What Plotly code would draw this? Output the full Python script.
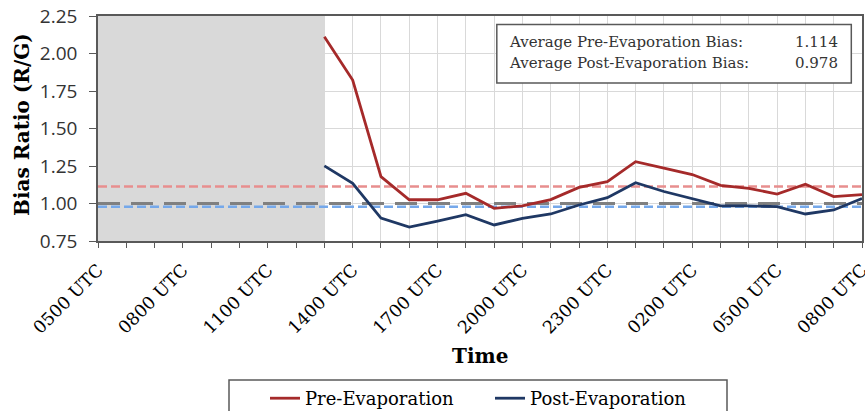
import plotly.graph_objects as go

# ---------------- data ----------------
hours = ["0500", "0600", "0700", "0800", "0900", "1000", "1100", "1200", "1300",
         "1400", "1500", "1600", "1700", "1800", "1900", "2000", "2100", "2200",
         "2300", "0000", "0100", "0200", "0300", "0400", "0500", "0600", "0700", "0800"]
label_every = 3

pre_evap = [None] * 8 + [2.112, 1.823, 1.179, 1.025, 1.025, 1.068, 0.968, 0.984, 1.026,
                         1.107, 1.146, 1.279, 1.236, 1.193, 1.121, 1.101, 1.063, 1.128,
                         1.046, 1.059]
post_evap = [None] * 8 + [1.251, 1.134, 0.903, 0.843, 0.882, 0.925, 0.857, 0.901, 0.930,
                          0.990, 1.039, 1.139, 1.080, 1.032, 0.984, 0.984, 0.979, 0.930,
                          0.957, 1.033]

avg_pre = 1.114
avg_post = 0.978
unity = 1.00
shade_start, shade_end = 0, 8   # period without data (grey band)

# ---------------- styles ----------------
SERIF = "DejaVu Serif"
SANS = "Open Sans"
FRAME = "#595959"
GRID = "#d9d9d9"

x = list(range(len(hours)))
ticktext = [(h + " UTC") if i % label_every == 0 else "" for i, h in enumerate(hours)]

fig = go.Figure()

# reference lines (drawn first, under data)
fig.add_trace(go.Scatter(x=[x[0], x[-1]], y=[avg_pre, avg_pre], mode="lines",
                         line=dict(color="#e88e8e", width=2.5, dash="9px,4px"),
                         showlegend=False, hoverinfo="skip"))
fig.add_trace(go.Scatter(x=[x[0], x[-1]], y=[unity, unity], mode="lines",
                         line=dict(color="#808080", width=3, dash="22px,11px"),
                         showlegend=False, hoverinfo="skip"))
fig.add_trace(go.Scatter(x=[x[0], x[-1]], y=[avg_post, avg_post], mode="lines",
                         line=dict(color="#75a8ea", width=2.5, dash="9px,4px"),
                         showlegend=False, hoverinfo="skip"))

fig.add_trace(go.Scatter(x=x, y=pre_evap, mode="lines", name="Pre-Evaporation",
                         line=dict(color="#a52a2a", width=2.8)))
fig.add_trace(go.Scatter(x=x, y=post_evap, mode="lines", name="Post-Evaporation",
                         line=dict(color="#1f3864", width=2.8)))

# grey band
fig.add_shape(type="rect", xref="x", yref="y", x0=shade_start, x1=shade_end,
              y0=0.75, y1=2.25, fillcolor="#d9d9d9", line=dict(width=0), layer="between")

# stats box
fig.add_shape(type="rect", xref="paper", yref="paper", x0=0.522, x1=0.986, y0=0.702, y1=0.962,
              line=dict(color=FRAME, width=1.5), fillcolor="white", layer="above")
rows = [("Average Pre-Evaporation Bias:", avg_pre, 0.884),
        ("Average Post-Evaporation Bias:", avg_post, 0.791)]
for lab, val, yy in rows:
    fig.add_annotation(xref="paper", yref="paper", x=0.535, y=yy, text=lab, showarrow=False,
                       xanchor="left", yanchor="middle", font=dict(family=SERIF, size=15, color="#333"))
    fig.add_annotation(xref="paper", yref="paper", x=0.971, y=yy, text=f"{val:.3f}", showarrow=False,
                       xanchor="right", yanchor="middle", font=dict(family=SERIF, size=15, color="#333"))

# axis titles
fig.add_annotation(xref="paper", yref="paper", x=(22 - 98) / 764, y=(241 - 125) / 225,
                   text="<b>Bias Ratio (R/G)</b>", textangle=-90, showarrow=False,
                   xanchor="center", yanchor="middle", font=dict(family=SERIF, size=20, color="black"))
fig.add_annotation(xref="paper", yref="paper", x=0.5, y=(241 - 356) / 225,
                   text="<b>Time</b>", showarrow=False,
                   xanchor="center", yanchor="middle", font=dict(family=SERIF, size=20, color="black"))

# legend box
fig.add_shape(type="rect", xref="paper", yref="paper", x0=(229 - 98) / 764, x1=(727 - 98) / 764,
              y0=-0.85, y1=(241 - 380) / 225, line=dict(color=FRAME, width=1.5))

fig.update_layout(
    width=865, height=411,
    margin=dict(l=98, r=3, t=16, b=170, autoexpand=False),
    plot_bgcolor="white", paper_bgcolor="white",
    showlegend=True,
    legend=dict(orientation="h", x=(265 - 98) / 764, y=(241 - 380) / 225,
                xanchor="left", yanchor="top", font=dict(family=SERIF, size=18, color="black"),
                bgcolor="rgba(0,0,0,0)", borderwidth=0, entrywidth=180, entrywidthmode="pixels"),
    xaxis=dict(range=[0, len(hours) - 1], tickmode="array", tickvals=x, ticktext=ticktext,
               tickangle=-45, ticks="outside", ticklen=5, tickcolor=FRAME, tickwidth=1.2,
               showline=True, linecolor=FRAME, linewidth=1.5, mirror=True,
               showgrid=True, gridcolor=GRID, gridwidth=1, zeroline=False,
               ticklabeloverflow="allow", ticklabelstandoff=5,
               tickfont=dict(family=SERIF, size=17.5, color="black")),
    yaxis=dict(range=[0.75, 2.25], tickmode="linear", tick0=0.75, dtick=0.25, tickformat=".2f",
               ticks="outside", ticklen=7, tickcolor=FRAME, tickwidth=1.2,
               showline=True, linecolor=FRAME, linewidth=1.5, mirror=True,
               showgrid=True, gridcolor=GRID, gridwidth=1, zeroline=False,
               ticklabelstandoff=8,
               tickfont=dict(family=SANS, size=19, color="#333")),
)

fig.write_html("out.html")
